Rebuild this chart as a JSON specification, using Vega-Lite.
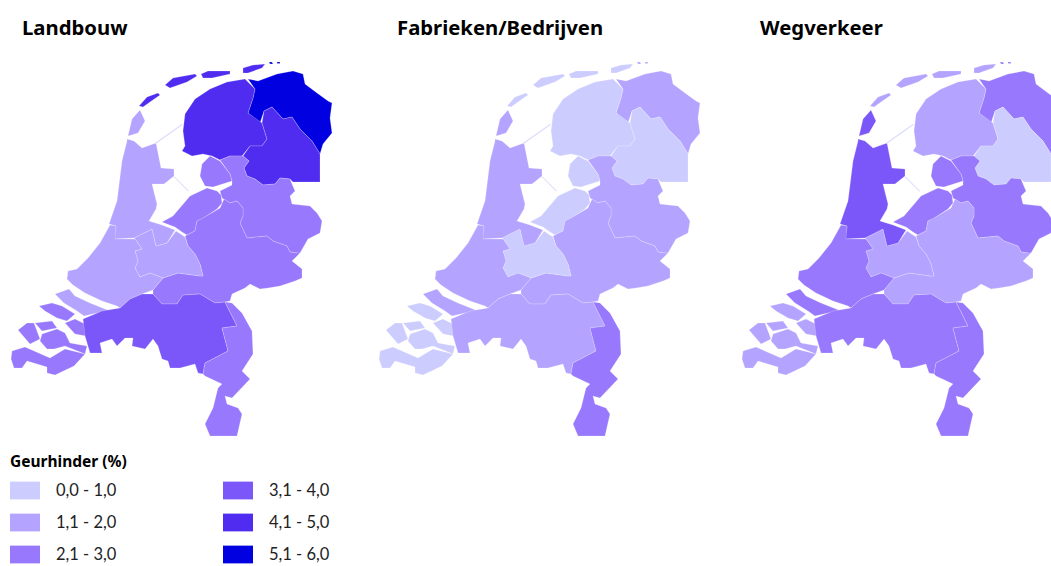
{"$schema":"https://vega.github.io/schema/vega-lite/v6.json","padding":{"top":18,"left":0,"right":0,"bottom":0},"spacing":0,"background":"white","config":{"view":{"stroke":null},"concat":{"spacing":0},"title":{"font":"Noto Sans","fontSize":20.3,"fontWeight":"bold","color":"#000000","anchor":"start","frame":"group","offset":10},"legend":{"titleFont":"Noto Sans","labelFont":"Lato"}},"datasets":{"waarden":[
{"sector":"Landbouw","province":"Groningen","klasse":"5,1 - 6,0"},{"sector":"Landbouw","province":"Friesland","klasse":"4,1 - 5,0"},{"sector":"Landbouw","province":"Drenthe","klasse":"4,1 - 5,0"},{"sector":"Landbouw","province":"Overijssel","klasse":"2,1 - 3,0"},{"sector":"Landbouw","province":"Flevoland","klasse":"2,1 - 3,0"},{"sector":"Landbouw","province":"Gelderland","klasse":"2,1 - 3,0"},{"sector":"Landbouw","province":"Utrecht","klasse":"1,1 - 2,0"},{"sector":"Landbouw","province":"Noord-Holland","klasse":"1,1 - 2,0"},{"sector":"Landbouw","province":"Zuid-Holland","klasse":"1,1 - 2,0"},{"sector":"Landbouw","province":"Zeeland","klasse":"2,1 - 3,0"},{"sector":"Landbouw","province":"Noord-Brabant","klasse":"3,1 - 4,0"},{"sector":"Landbouw","province":"Limburg","klasse":"2,1 - 3,0"},{"sector":"Landbouw","province":"Dijken","klasse":"0,0 - 1,0"},
{"sector":"Fabrieken/Bedrijven","province":"Groningen","klasse":"1,1 - 2,0"},{"sector":"Fabrieken/Bedrijven","province":"Friesland","klasse":"0,0 - 1,0"},{"sector":"Fabrieken/Bedrijven","province":"Drenthe","klasse":"0,0 - 1,0"},{"sector":"Fabrieken/Bedrijven","province":"Overijssel","klasse":"1,1 - 2,0"},{"sector":"Fabrieken/Bedrijven","province":"Flevoland","klasse":"0,0 - 1,0"},{"sector":"Fabrieken/Bedrijven","province":"Gelderland","klasse":"1,1 - 2,0"},{"sector":"Fabrieken/Bedrijven","province":"Utrecht","klasse":"0,0 - 1,0"},{"sector":"Fabrieken/Bedrijven","province":"Noord-Holland","klasse":"1,1 - 2,0"},{"sector":"Fabrieken/Bedrijven","province":"Zuid-Holland","klasse":"1,1 - 2,0"},{"sector":"Fabrieken/Bedrijven","province":"Zeeland","klasse":"0,0 - 1,0"},{"sector":"Fabrieken/Bedrijven","province":"Noord-Brabant","klasse":"1,1 - 2,0"},{"sector":"Fabrieken/Bedrijven","province":"Limburg","klasse":"2,1 - 3,0"},{"sector":"Fabrieken/Bedrijven","province":"Dijken","klasse":"0,0 - 1,0"},
{"sector":"Wegverkeer","province":"Groningen","klasse":"2,1 - 3,0"},{"sector":"Wegverkeer","province":"Friesland","klasse":"1,1 - 2,0"},{"sector":"Wegverkeer","province":"Drenthe","klasse":"0,0 - 1,0"},{"sector":"Wegverkeer","province":"Overijssel","klasse":"2,1 - 3,0"},{"sector":"Wegverkeer","province":"Flevoland","klasse":"2,1 - 3,0"},{"sector":"Wegverkeer","province":"Gelderland","klasse":"1,1 - 2,0"},{"sector":"Wegverkeer","province":"Utrecht","klasse":"1,1 - 2,0"},{"sector":"Wegverkeer","province":"Noord-Holland","klasse":"3,1 - 4,0"},{"sector":"Wegverkeer","province":"Zuid-Holland","klasse":"2,1 - 3,0"},{"sector":"Wegverkeer","province":"Zeeland","klasse":"1,1 - 2,0"},{"sector":"Wegverkeer","province":"Noord-Brabant","klasse":"2,1 - 3,0"},{"sector":"Wegverkeer","province":"Limburg","klasse":"2,1 - 3,0"},{"sector":"Wegverkeer","province":"Dijken","klasse":"0,0 - 1,0"}
],"provincies":[
{"province":"Dijken","geometry":{"type":"MultiPolygon","coordinates":[[[[155,142],[182,123],[182.7,123.8],[155.7,142.7],[155,142]]],[[[174,175],[189,190],[188.4,190.6],[173.4,175.6],[174,175]]]]}},
{"province":"Groningen","geometry":{"type":"MultiPolygon","coordinates":[[[[248,78],[258,80],[277,73],[293,70],[303,73],[305,83],[317,92],[328,100],[332,102],[330,117],[332,132],[323,143],[320,153],[312,140],[300,128],[292,116],[283,118],[272,106],[264,110],[260,122],[248,112],[253,97],[255,88],[248,78]]],[[[269,61],[272,61],[273,63],[270,63],[269,61]]],[[[277,61],[280,61],[280,62.5],[277,62.5],[277,61]]]]}},
{"province":"Friesland","geometry":{"type":"MultiPolygon","coordinates":[[[[245,78],[227,81],[210,88],[195,98],[185,113],[183,130],[185,145],[182,150],[192,155],[203,153],[212,155],[220,159],[230,155],[242,155],[250,145],[262,145],[267,138],[262,122],[248,112],[253,97],[255,88],[245,78]]],[[[139,105],[147,96],[158,92],[160,94],[150,101],[143,106],[139,105]]],[[[165,84],[173,77],[195,73],[197,75],[187,81],[170,87],[165,84]]],[[[201,73],[208,70],[230,70],[230,73],[212,77],[203,77],[201,73]]],[[[243,67],[253,64],[265,63],[262,67],[248,72],[243,72],[243,67]]]]}},
{"province":"Drenthe","geometry":{"type":"Polygon","coordinates":[[[272,106],[283,118],[292,116],[300,128],[312,140],[320,153],[320,181],[293,181],[290,178],[280,177],[275,183],[263,184],[255,178],[247,175],[244,167],[249,160],[243,155],[250,145],[262,145],[267,138],[262,122],[264,110],[272,106]]]}},
{"province":"Overijssel","geometry":{"type":"Polygon","coordinates":[[[220,159],[230,155],[243,155],[249,160],[244,167],[247,175],[255,178],[263,184],[275,183],[280,177],[290,178],[292,183],[295,190],[290,195],[292,203],[310,205],[317,212],[322,220],[320,232],[308,238],[300,252],[297,252],[290,251],[287,245],[273,240],[267,235],[247,237],[240,222],[243,215],[243,207],[237,200],[230,202],[222,197],[220,190],[232,184],[232,180],[230,173],[220,159]]]}},
{"province":"Flevoland","geometry":{"type":"MultiPolygon","coordinates":[[[[202,163],[210,155],[220,160],[230,173],[232,180],[213,186],[205,185],[200,175],[202,163]]],[[[162,221],[173,215],[190,195],[207,187],[217,190],[221,194],[222,202],[217,208],[202,218],[197,220],[195,230],[187,234],[182,231],[175,226],[167,223],[162,221]]]]}},
{"province":"Gelderland","geometry":{"type":"Polygon","coordinates":[[[224,198],[230,202],[237,200],[243,207],[243,215],[240,222],[247,237],[267,235],[273,240],[287,245],[290,251],[297,252],[300,252],[292,260],[302,268],[302,277],[295,280],[280,285],[268,287],[260,288],[250,283],[245,287],[232,293],[230,300],[225,301],[215,302],[200,293],[183,294],[177,303],[162,303],[153,293],[153,289],[163,277],[178,272],[200,275],[203,275],[200,263],[195,253],[188,245],[185,235],[195,230],[197,220],[203,217],[220,207],[224,198]]]}},
{"province":"Utrecht","geometry":{"type":"Polygon","coordinates":[[[135,238],[142,248],[135,250],[138,260],[135,267],[140,276],[150,272],[163,277],[178,272],[200,275],[203,275],[200,263],[195,253],[188,245],[185,236],[176,230],[167,242],[156,245],[152,228],[134,237],[135,238]]]}},
{"province":"Noord-Holland","geometry":{"type":"MultiPolygon","coordinates":[[[[127,138],[134,140],[142,147],[156,142],[161,167],[174,168],[174,175],[164,183],[152,183],[157,203],[156,208],[149,220],[162,224],[175,229],[167,242],[156,245],[152,228],[134,237],[114,238],[116,225],[109,223],[117,200],[122,160],[127,140],[127,138]]],[[[140,109],[145,120],[138,132],[128,135],[132,118],[140,109]]]]}},
{"province":"Zuid-Holland","geometry":{"type":"MultiPolygon","coordinates":[[[[110,224],[100,242],[88,257],[77,268],[68,270],[67,278],[73,284],[85,292],[102,300],[117,305],[120,307],[130,298],[142,293],[153,289],[163,277],[150,272],[140,276],[135,267],[138,260],[135,250],[142,248],[135,238],[128,238],[115,238],[116,225],[110,224]]],[[[55,293],[69,288],[75,295],[90,302],[110,310],[97,312],[84,315],[77,310],[64,302],[55,293]]]]}},
{"province":"Zeeland","geometry":{"type":"MultiPolygon","coordinates":[[[[12,350],[25,346],[50,357],[65,348],[85,353],[74,365],[55,374],[47,372],[47,366],[27,360],[22,367],[14,367],[11,358],[12,350]]],[[[18,329],[27,322],[34,322],[40,338],[30,343],[18,329]]],[[[35,322],[52,320],[57,327],[42,330],[35,322]]],[[[42,333],[57,328],[65,332],[70,342],[87,345],[85,353],[65,345],[54,348],[47,348],[40,340],[42,333]]],[[[39,305],[52,302],[62,305],[75,313],[67,320],[57,317],[45,310],[39,305]]],[[[65,322],[75,318],[85,323],[86,335],[75,333],[65,322]]]]}},
{"province":"Noord-Brabant","geometry":{"type":"Polygon","coordinates":[[[83,318],[102,310],[120,307],[130,298],[142,293],[153,293],[162,303],[177,303],[183,294],[200,293],[215,302],[225,301],[237,325],[222,327],[228,350],[205,362],[203,373],[198,372],[195,363],[180,367],[170,367],[168,360],[162,358],[158,345],[153,338],[145,348],[132,345],[133,337],[125,337],[117,345],[112,338],[100,342],[102,352],[90,352],[85,335],[83,318]]]}},
{"province":"Limburg","geometry":{"type":"Polygon","coordinates":[[[225,301],[232,302],[242,312],[252,330],[253,353],[242,370],[250,378],[232,397],[225,395],[227,403],[238,407],[242,413],[237,435],[210,435],[205,423],[213,407],[218,387],[222,383],[205,375],[203,373],[205,362],[228,350],[222,327],[237,325],[225,301]]]}}
]},
"hconcat":[
{"title":{"text":"Landbouw","dx":22},"width":368,"height":518,"data":{"name":"waarden"},"transform":[{"filter":"datum.sector === 'Landbouw'"},{"lookup":"province","from":{"data":{"name":"provincies"},"key":"province","fields":["geometry"]}}],"projection":{"type":"identity","scale":1,"translate":[0,-48]},"mark":{"type":"geoshape","stroke":"#ffffff","strokeWidth":0.3,"strokeOpacity":0.7,"clip":true},"encoding":{"shape":{"field":"geometry","type":"geojson"},"color":{"field":"klasse","type":"ordinal","scale":{"domain":["0,0 - 1,0","1,1 - 2,0","2,1 - 3,0","3,1 - 4,0","4,1 - 5,0","5,1 - 6,0"],"range":["#ccccff","#b4a3ff","#9878fc","#7b56f9","#4f2cf0","#0000e1"]},"legend":{"title":"Geurhinder (%)","orient":"none","legendX":10,"legendY":406,"direction":"vertical","columns":2,"columnPadding":106,"rowPadding":14,"titleFontSize":15.5,"titleFontWeight":"bold","titleColor":"#000000","titlePadding":11,"labelFontSize":16.5,"labelColor":"#222222","labelOffset":16,"labelLimit":150,"symbolType":"M-1,-0.62H1V0.62H-1Z","symbolSize":900,"symbolStrokeWidth":0,"symbolOpacity":1,"gridAlign":"each","clipHeight":18}}}},
{"title":{"text":"Fabrieken/Bedrijven","dx":29},"width":363,"height":518,"data":{"name":"waarden"},"transform":[{"filter":"datum.sector === 'Fabrieken/Bedrijven'"},{"lookup":"province","from":{"data":{"name":"provincies"},"key":"province","fields":["geometry"]}}],"projection":{"type":"identity","scale":1,"translate":[0,-48]},"mark":{"type":"geoshape","stroke":"#ffffff","strokeWidth":0.3,"strokeOpacity":0.7,"clip":true},"encoding":{"shape":{"field":"geometry","type":"geojson"},"color":{"field":"klasse","type":"ordinal","scale":{"domain":["0,0 - 1,0","1,1 - 2,0","2,1 - 3,0","3,1 - 4,0","4,1 - 5,0","5,1 - 6,0"],"range":["#ccccff","#b4a3ff","#9878fc","#7b56f9","#4f2cf0","#0000e1"]},"legend":null}}},
{"title":{"text":"Wegverkeer","dx":29},"width":320,"height":518,"data":{"name":"waarden"},"transform":[{"filter":"datum.sector === 'Wegverkeer'"},{"lookup":"province","from":{"data":{"name":"provincies"},"key":"province","fields":["geometry"]}}],"projection":{"type":"identity","scale":1,"translate":[0,-48]},"mark":{"type":"geoshape","stroke":"#ffffff","strokeWidth":0.3,"strokeOpacity":0.7,"clip":true},"encoding":{"shape":{"field":"geometry","type":"geojson"},"color":{"field":"klasse","type":"ordinal","scale":{"domain":["0,0 - 1,0","1,1 - 2,0","2,1 - 3,0","3,1 - 4,0","4,1 - 5,0","5,1 - 6,0"],"range":["#ccccff","#b4a3ff","#9878fc","#7b56f9","#4f2cf0","#0000e1"]},"legend":null}}}
]}
